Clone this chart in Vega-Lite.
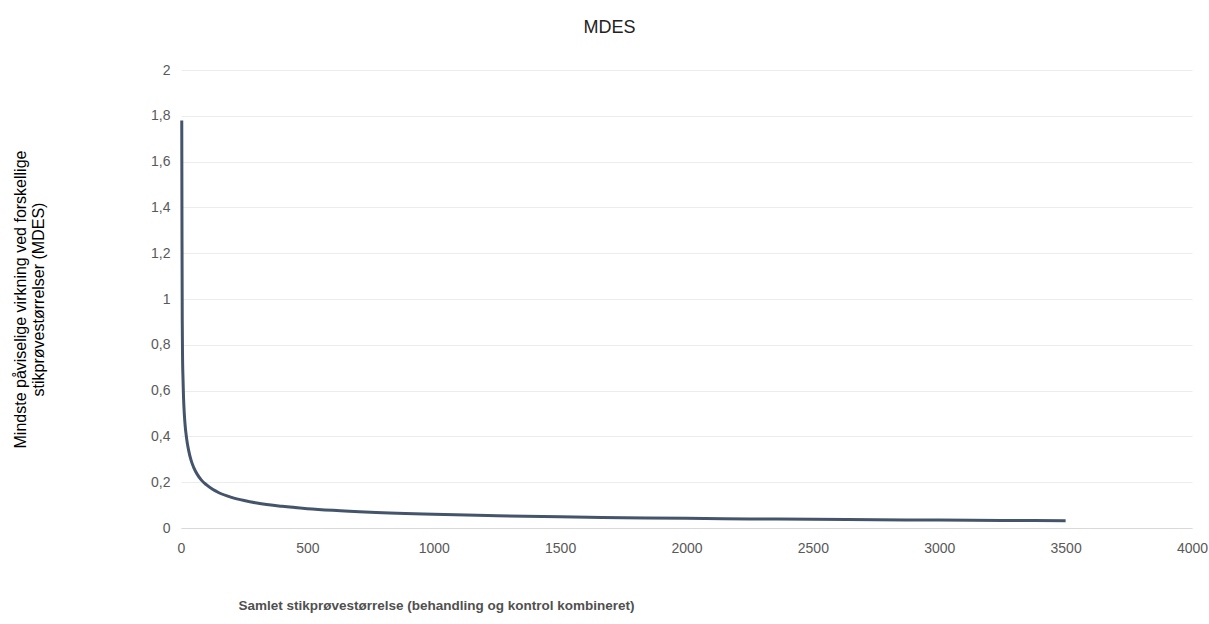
{
  "$schema": "https://vega.github.io/schema/vega-lite/v6.json",
  "autosize": "none",
  "padding": {"left": 181, "top": 70, "right": 17, "bottom": 96},
  "width": 1011,
  "height": 458,
  "background": "white",
  "title": {"text": "MDES", "font": "Liberation Sans", "fontSize": 18, "fontWeight": "normal", "color": "#222222", "anchor": "middle", "dx": -77, "offset": 26},
  "config": {
    "view": {"stroke": null},
    "axis": {"labelFont": "Liberation Sans", "labelFontSize": 14, "labelColor": "#595959", "ticks": false, "gridColor": "#ececec", "gridWidth": 1}
  },
  "data": {"values": [
    {"n": 3, "mdes": 1.78},
    {"n": 4, "mdes": 1.25},
    {"n": 5, "mdes": 0.9},
    {"n": 6, "mdes": 0.76},
    {"n": 8, "mdes": 0.65},
    {"n": 10, "mdes": 0.57},
    {"n": 13, "mdes": 0.5},
    {"n": 17, "mdes": 0.44},
    {"n": 20, "mdes": 0.41},
    {"n": 25, "mdes": 0.37},
    {"n": 30, "mdes": 0.34},
    {"n": 40, "mdes": 0.295},
    {"n": 50, "mdes": 0.265},
    {"n": 65, "mdes": 0.233},
    {"n": 80, "mdes": 0.21},
    {"n": 100, "mdes": 0.189},
    {"n": 125, "mdes": 0.169},
    {"n": 150, "mdes": 0.154},
    {"n": 200, "mdes": 0.134},
    {"n": 250, "mdes": 0.12},
    {"n": 300, "mdes": 0.109},
    {"n": 400, "mdes": 0.0945},
    {"n": 500, "mdes": 0.0845},
    {"n": 600, "mdes": 0.0772},
    {"n": 750, "mdes": 0.069},
    {"n": 1000, "mdes": 0.0598},
    {"n": 1250, "mdes": 0.0535},
    {"n": 1500, "mdes": 0.0488},
    {"n": 1750, "mdes": 0.0452},
    {"n": 2000, "mdes": 0.0423},
    {"n": 2250, "mdes": 0.0398},
    {"n": 2500, "mdes": 0.0378},
    {"n": 2750, "mdes": 0.036},
    {"n": 3000, "mdes": 0.0345},
    {"n": 3250, "mdes": 0.0332},
    {"n": 3500, "mdes": 0.032}
  ]},
  "mark": {"type": "line", "color": "#44546a", "strokeWidth": 3, "interpolate": "monotone"},
  "encoding": {
    "x": {"field": "n", "type": "quantitative",
      "scale": {"domain": [0, 4000], "nice": false},
      "axis": {"values": [0, 500, 1000, 1500, 2000, 2500, 3000, 3500, 4000], "format": "d", "grid": false, "domain": true, "domainColor": "#d9d9d9", "domainWidth": 1, "labelPadding": 13, "labelFlush": false,
        "title": "Samlet stikprøvestørrelse (behandling og kontrol kombineret)",
        "titleFont": "Liberation Sans", "titleFontSize": 13.5, "titleFontWeight": "bold", "titleColor": "#505050",
        "titleAnchor": "start", "titleAlign": "left", "titleX": 57, "titleY": 70}},
    "y": {"field": "mdes", "type": "quantitative",
      "scale": {"domain": [0, 2], "nice": false},
      "axis": {"values": [0, 0.2, 0.4, 0.6, 0.8, 1, 1.2, 1.4, 1.6, 1.8, 2], "format": ",.1~f", "labelExpr": "replace(datum.label, '.', ',')", "domain": false, "labelPadding": 11,
        "title": ["Mindste påviselige virkning ved forskellige", "stikprøvestørrelser (MDES)"],
        "titleFont": "Liberation Sans", "titleFontSize": 16, "titleFontWeight": "normal", "titleColor": "#000000", "titlePadding": 104, "titleLineHeight": 18}}
  }
}
